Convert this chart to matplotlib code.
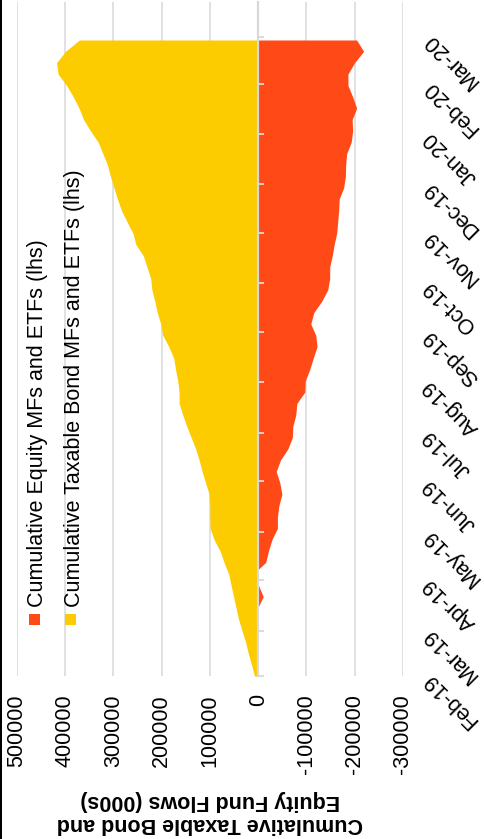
import matplotlib
matplotlib.use('Agg')
import matplotlib.pyplot as plt
import matplotlib.dates as mdates
import matplotlib.ticker as mticker
from matplotlib.patches import Rectangle
import pandas as pd

plt.rcParams['font.family'] = ['Liberation Sans', 'DejaVu Sans']
plt.rcParams['axes.unicode_minus'] = False

# weekly (Friday) observations
dates = pd.date_range('2019-02-01', '2020-02-28', freq='W-FRI')

bond = [7900, 14000, 20700, 26400, 33700, 40900, 46100, 51200, 56400, 61400,
        70900, 79100, 91500, 99800, 100400, 100400, 101900, 109100, 116300, 122500,
        129700, 139000, 148300, 156600, 164000, 164000, 166900, 171500, 175200, 185500,
        197900, 202100, 209300, 214500, 220400, 222900, 230600, 238200, 253700, 259900,
        272100, 283700, 291900, 299200, 306400, 312600, 322100, 331800, 347700, 362200,
        371500, 383400, 397300, 414800, 418000, 399400, 370800]

equity = [2000, 3000, 2000, 4000, 3000, 2000, 1000, -10300, -300, 10000,
          -15300, -21100, -28300, -39700, -39700, -42800, -49000, -44800, -37200, -45900,
          -61400, -70700, -71700, -77900, -80000, -96500, -97500, -106800, -114000, -121900,
          -119200, -108900, -115100, -131600, -144000, -148100, -148100, -153300, -157400, -162600,
          -164700, -166700, -167800, -177100, -180600, -181200, -183300, -192600, -195700, -194600,
          -203900, -195600, -185900, -185900, -199600, -218400, -203900]

series_names = ['Cumulative Equity MFs and ETFs (lhs)',
                'Cumulative Taxable Bond MFs and ETFs (lhs)']
month_ticks = pd.date_range('2019-02-01', '2020-03-01', freq='MS')
value_ticks = [500000, 400000, 300000, 200000, 100000, 0, -100000, -200000, -300000]
axis_title = 'Cumulative Taxable Bond and\nEquity Fund Flows (000s)'

RED = '#FF4A17'
YELLOW = '#FDCC00'
GRID = '#d9d9d9'
FS = 15.5

W, H = 485, 839
fig = plt.figure(figsize=(W / 100, H / 100), dpi=100)
ax = fig.add_axes([17 / W, 163 / H, 386 / W, 674 / H])

ax.fill_betweenx(dates, 0, equity, color=RED, lw=0, zorder=1)
ax.fill_betweenx(dates, 0, bond, color=YELLOW, lw=0, zorder=2)

ax.set_xlim(500000, -300000)
ax.set_ylim(pd.Timestamp('2019-02-01'), pd.Timestamp('2020-03-22 10:00'))

ax.set_xticks(value_ticks)
ax.xaxis.set_major_formatter(mticker.StrMethodFormatter('{x:.0f}'))
ax.tick_params(axis='x', length=0, pad=13, labelsize=FS, labelrotation=90)
ax.grid(axis='x', color=GRID, linewidth=1.1)
ax.set_axisbelow(True)

ax.set_yticks(month_ticks)
ax.yaxis.set_major_formatter(mdates.DateFormatter('%b-%y'))
ax.yaxis.tick_right()
ax.tick_params(axis='y', length=0, pad=17, labelsize=FS)
plt.setp(ax.get_yticklabels(), rotation=135, ha='right', va='center',
         rotation_mode='anchor')

for s in ax.spines.values():
    s.set_visible(False)

# date axis line crossing at zero
sec = ax.secondary_yaxis(0, transform=ax.transData)
sec.set_alignment('right')
sec.set_yticks(mdates.date2num(month_ticks))
sec.tick_params(axis='y', direction='out', length=4, width=1.3, color=GRID,
                labelleft=False, labelright=False)
for s in sec.spines.values():
    s.set_color(GRID)
    s.set_linewidth(1.6)
sec.set_zorder(5)

ax.set_xlabel(axis_title, rotation=180, fontweight='bold', fontsize=FS,
              labelpad=11.5, linespacing=1.1)

# legend, rotated like the rest of the chart
for name, col, xb, xm in [(series_names[0], RED, 0.0681, 0.0311),
                          (series_names[1], YELLOW, 0.1632, 0.1244)]:
    ax.text(xb, 0.1024, name, transform=ax.transAxes, rotation=90,
            rotation_mode='anchor', ha='left', va='baseline', fontsize=FS)
    ax.add_patch(Rectangle((xm, 0.0757), 11 / 386, 11 / 674, transform=ax.transAxes,
                           facecolor=col, edgecolor='none', clip_on=False))

fig.add_artist(Rectangle((0, 0), 2.5 / W, 1, transform=fig.transFigure,
                         facecolor='black', edgecolor='none'))

fig.savefig('out.png', dpi=100)
